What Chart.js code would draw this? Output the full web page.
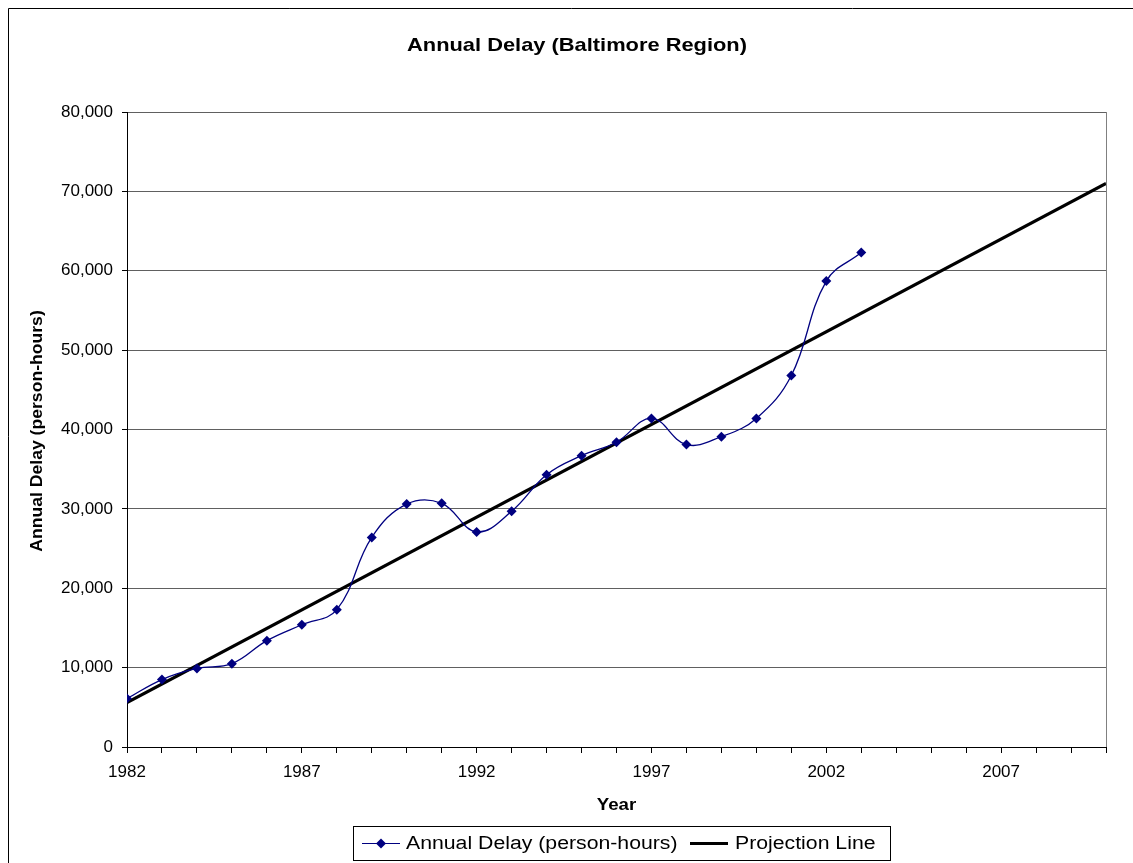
<!DOCTYPE html>
<html lang="en">
<head>
    <meta charset="UTF-8">
    <title>Annual Delay (Baltimore Region)</title>
    <script src="https://cdn.jsdelivr.net/npm/chart.js"></script>
    <style>
        body { margin: 0; background: #fff; }
        #wrap { width: 1133px; height: 863px; position: relative; }
    </style>
</head>
<body>
    <div id="wrap"><canvas id="delayChart"></canvas></div>

    <script>
        // data
        const years = [1982, 1983, 1984, 1985, 1986, 1987, 1988, 1989, 1990, 1991, 1992,
                       1993, 1994, 1995, 1996, 1997, 1998, 1999, 2000, 2001, 2002, 2003];
        const annualDelay = [6100, 8500, 9900, 10500, 13400, 15400, 17300, 26400, 30600, 30700, 27100,
                             29700, 34300, 36700, 38400, 41400, 38100, 39100, 41400, 46800, 58700, 62300];
        const projectionYears = [1982, 2010];
        const projectionValues = [5600, 71000];
        const yTicks = [0, 10000, 20000, 30000, 40000, 50000, 60000, 70000, 80000];

        const FONT = 'Arial, "Liberation Sans", sans-serif';
        const NAVY = '#000080';

        // text a little wider than the font gives, like the original export
        function wideText(ctx, text, x, y, font, sx, align) {
            ctx.save();
            ctx.font = font;
            ctx.textAlign = align || 'center';
            ctx.textBaseline = 'middle';
            ctx.translate(x, y);
            ctx.scale(sx, 1);
            ctx.fillText(text, 0, 0);
            ctx.restore();
        }

        // titles, right border and legend drawn on top
        const decorations = {
            id: 'decorations',
            afterDraw(chart) {
                const ctx = chart.ctx;
                const area = chart.chartArea;
                ctx.save();

                // outer frame
                ctx.strokeStyle = '#000';
                ctx.lineWidth = 1;
                ctx.beginPath();
                ctx.moveTo(8.5, 870);
                ctx.lineTo(8.5, 8.5);
                ctx.lineTo(1140, 8.5);
                ctx.stroke();

                // gray right edge of plot
                ctx.strokeStyle = '#808080';
                ctx.beginPath();
                ctx.moveTo(Math.round(area.right) + 0.5, area.top);
                ctx.lineTo(Math.round(area.right) + 0.5, area.bottom);
                ctx.stroke();

                ctx.fillStyle = '#000';
                wideText(ctx, 'Annual Delay (Baltimore Region)', 577, 46, 'bold 19px ' + FONT, 1.15);
                wideText(ctx, 'Year', (area.left + area.right) / 2, 805, 'bold 17px ' + FONT, 1.1);

                ctx.save();
                ctx.translate(38, 431);
                ctx.rotate(-Math.PI / 2);
                wideText(ctx, 'Annual Delay (person-hours)', 0, 0, 'bold 16px ' + FONT, 1.1);
                ctx.restore();

                // legend
                ctx.strokeStyle = '#000';
                ctx.lineWidth = 1;
                ctx.strokeRect(353.5, 826.5, 537, 34);
                ctx.strokeStyle = NAVY;
                ctx.beginPath();
                ctx.moveTo(362, 843.5);
                ctx.lineTo(400, 843.5);
                ctx.stroke();
                ctx.fillStyle = NAVY;
                ctx.beginPath();
                ctx.moveTo(381, 838.5);
                ctx.lineTo(386, 843.5);
                ctx.lineTo(381, 848.5);
                ctx.lineTo(376, 843.5);
                ctx.closePath();
                ctx.fill();
                ctx.strokeStyle = '#000';
                ctx.lineWidth = 3;
                ctx.beginPath();
                ctx.moveTo(690, 843.5);
                ctx.lineTo(728, 843.5);
                ctx.stroke();

                ctx.fillStyle = '#000';
                wideText(ctx, 'Annual Delay (person-hours)', 406, 844, '18px ' + FONT, 1.18, 'left');
                wideText(ctx, 'Projection Line', 735, 844, '18px ' + FONT, 1.18, 'left');

                ctx.restore();
            }
        };

        const ctx = document.getElementById('delayChart').getContext('2d');
        new Chart(ctx, {
            type: 'line',
            data: {
                datasets: [{
                    label: 'Annual Delay (person-hours)',
                    data: years.map((yr, i) => ({ x: yr, y: annualDelay[i] })),
                    borderColor: NAVY,
                    backgroundColor: NAVY,
                    borderWidth: 1.3,
                    tension: 0.4,
                    pointStyle: 'rectRot',
                    pointRadius: 5,
                    pointBorderWidth: 0,
                    fill: false
                }, {
                    label: 'Projection Line',
                    data: projectionYears.map((yr, i) => ({ x: yr, y: projectionValues[i] })),
                    borderColor: '#000',
                    borderWidth: 3,
                    pointRadius: 0,
                    tension: 0,
                    fill: false
                }]
            },
            options: {
                responsive: true,
                maintainAspectRatio: false,
                animation: false,
                devicePixelRatio: 1,
                layout: { padding: { top: 112, right: 27, left: 0, bottom: 0 } },
                plugins: {
                    legend: { display: false },
                    title: { display: false },
                    tooltip: { enabled: false }
                },
                scales: {
                    x: {
                        type: 'linear',
                        min: 1982,
                        max: 2010,
                        afterFit: s => { s.height = 116; },
                        ticks: {
                            stepSize: 1,
                            autoSkip: false,
                            maxRotation: 0,
                            padding: 9,
                            color: '#000',
                            font: { family: FONT, size: 17 },
                            callback: v => ((v - 1982) % 5 === 0 ? String(v) : '')
                        },
                        grid: {
                            drawOnChartArea: false,
                            drawTicks: true,
                            tickLength: 6,
                            tickColor: '#000'
                        },
                        border: { color: '#000', width: 1 }
                    },
                    y: {
                        min: 0,
                        max: 80000,
                        afterFit: s => { s.width = 127; },
                        afterBuildTicks: s => { s.ticks = yTicks.map(v => ({ value: v })); },
                        ticks: {
                            padding: 9,
                            color: '#000',
                            font: { family: FONT, size: 17 },
                            callback: v => v.toLocaleString('en-US')
                        },
                        grid: {
                            color: '#606060',
                            tickColor: '#000',
                            tickLength: 5
                        },
                        border: { color: '#000', width: 1 }
                    }
                }
            },
            plugins: [decorations]
        });
    </script>
</body>
</html>
